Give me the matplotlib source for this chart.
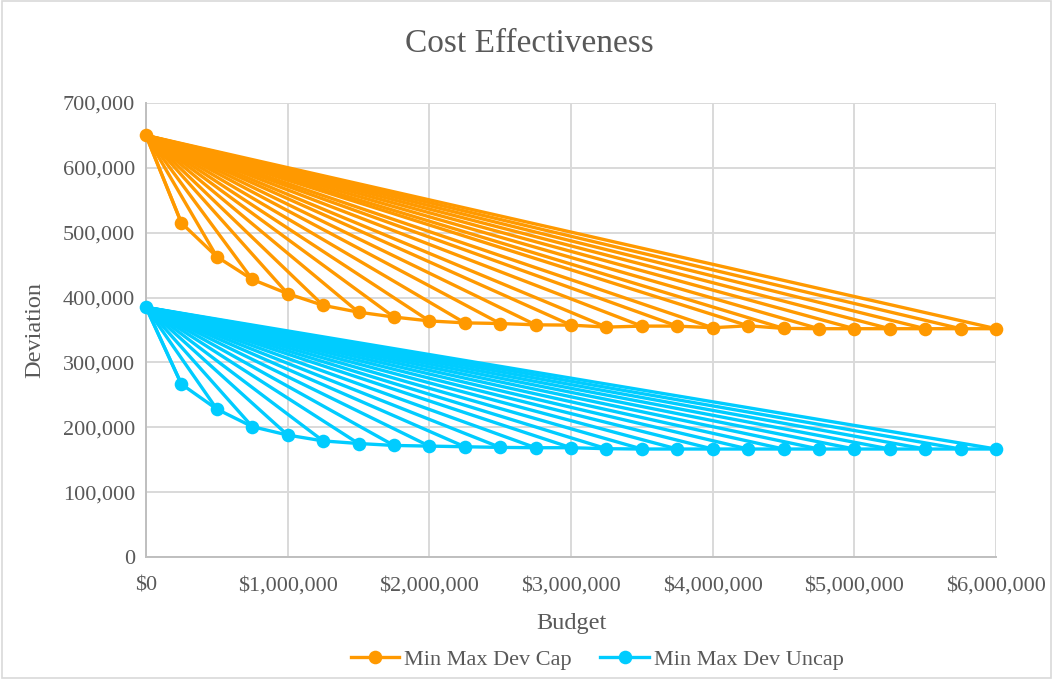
import matplotlib
matplotlib.use("Agg")
import matplotlib.pyplot as plt
from matplotlib.lines import Line2D
from matplotlib.ticker import FuncFormatter, MultipleLocator

plt.rcParams['font.family'] = ['Liberation Serif', 'DejaVu Serif']

# Budget levels (dollars)
budget = [0, 250000, 500000, 750000, 1000000, 1250000, 1500000, 1750000,
          2000000, 2250000, 2500000, 2750000, 3000000, 3250000, 3500000,
          3750000, 4000000, 4250000, 4500000, 4750000, 5000000, 5250000,
          5500000, 5750000, 6000000]

# Minimum maximum deviation, capped model
dev_cap = [650000, 515000, 463000, 428000, 406000, 388000, 377500, 370000,
           364000, 361000, 360000, 358000, 357500, 354500, 356000, 356000,
           353500, 356500, 352500, 352000, 352000, 352000, 352000, 352000,
           352000]

# Minimum maximum deviation, uncapped model
dev_uncap = [385000, 266500, 228000, 201000, 188000, 179000, 175000, 172000,
             171000, 170000, 169000, 168500, 168500, 167000, 166500, 166500,
             166500, 166500, 166500, 166500, 166500, 166500, 166500, 166500,
             166500]

series_names = ["Min Max Dev Cap", "Min Max Dev Uncap"]
series_colors = ["#FF9900", "#00CCFF"]

text_color = "#595959"
grid_color = "#D9D9D9"
LW = 2.4
MS = 9.8

fig = plt.figure(figsize=(10.53, 6.79), dpi=100)
ax = fig.add_axes([146 / 1053, 1 - 557 / 679, 850 / 1053, 454 / 679])

for vals, color, z in zip([dev_uncap, dev_cap], series_colors[::-1], [3, 4]):
    x0, y0 = budget[0], vals[0]
    # fan of segments from the zero-budget point to every budget level
    for xb, yb in zip(budget[1:], vals[1:]):
        ax.plot([x0, xb], [y0, yb], color=color, lw=LW, zorder=z,
                solid_capstyle='round', clip_on=False)
    # frontier through consecutive budget levels
    ax.plot(budget, vals, color=color, lw=LW, marker='o', markersize=MS,
            markeredgewidth=0, zorder=z + 0.5, clip_on=False)

ax.set_xlim(0, 6000000)
ax.set_ylim(0, 700000)
ax.xaxis.set_major_locator(MultipleLocator(1000000))
ax.yaxis.set_major_locator(MultipleLocator(100000))
ax.xaxis.set_major_formatter(FuncFormatter(lambda v, p: f"${v:,.0f}"))
ax.yaxis.set_major_formatter(FuncFormatter(lambda v, p: f"{v:,.0f}"))

ax.grid(True, color=grid_color, lw=1.4, zorder=0)
ax.set_axisbelow(True)
for side in ['top', 'right']:
    ax.spines[side].set_visible(False)
for side in ['left', 'bottom']:
    ax.spines[side].set_color("#BFBFBF")
    ax.spines[side].set_linewidth(1.4)
ax.tick_params(axis='both', length=0, colors=text_color, labelsize=16)
ax.tick_params(axis='x', pad=14)
ax.tick_params(axis='y', pad=8)

ax.set_xlabel("Budget", fontsize=17.5, color=text_color)
ax.set_ylabel("Deviation", fontsize=17.5, color=text_color)
ax.xaxis.set_label_coords(0.5, (557 - 624) / 454)
ax.yaxis.set_label_coords((35 - 146) / 850, 0.5)
ax.xaxis.label.set_va('center')
ax.yaxis.label.set_va('center')

fig.text(0.503, 1 - 44 / 679, "Cost Effectiveness", ha='center', va='center',
         fontsize=24, color=text_color)

handles = [Line2D([0], [0], color=c, lw=LW, marker='o', markersize=MS,
                  markeredgewidth=0) for c in series_colors]
fig.legend(handles, series_names, loc='center', ncol=2,
           bbox_to_anchor=(0.567, 1 - 660 / 679), frameon=False,
           fontsize=16, labelcolor=text_color, handlelength=2.2,
           handletextpad=0.2, columnspacing=1.3)

# thin chart-area border
fig.patches.append(plt.Rectangle((0.002, 0.002), 0.996, 0.996,
                                 transform=fig.transFigure, fill=False,
                                 edgecolor="#D9D9D9", lw=1.2))

fig.savefig("out.png", dpi=100)
